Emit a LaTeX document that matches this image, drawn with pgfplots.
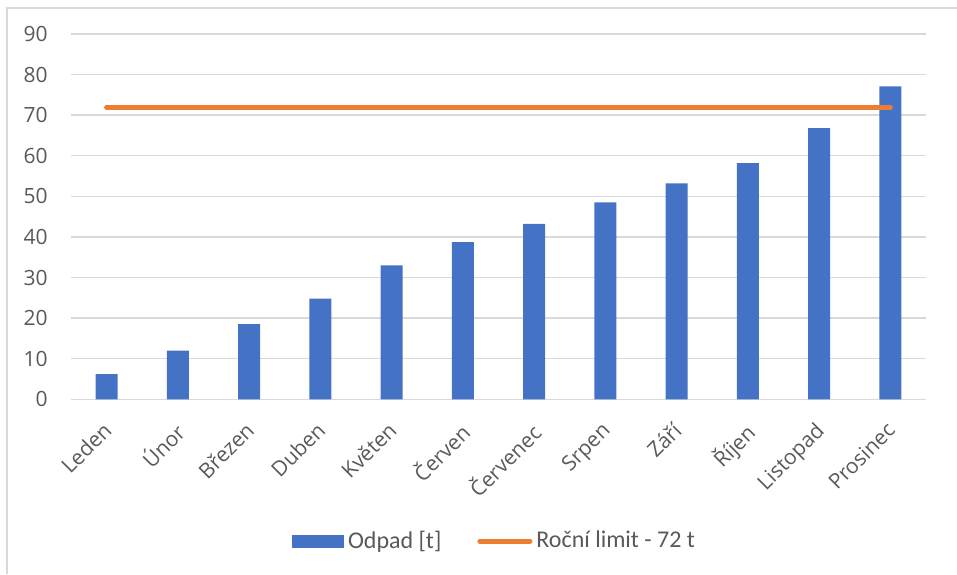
\documentclass[border=0pt]{standalone}
\usepackage{pgfplots}
\pgfplotsset{compat=1.18}
\usepackage{fontspec}
\setmainfont{Open Sans}
\newfontfamily\legendfont{Carlito}
\definecolor{barblue}{HTML}{4472C4}
\definecolor{limitorange}{HTML}{ED7D31}
\definecolor{gridgray}{HTML}{D9D9D9}
\definecolor{textgray}{HTML}{595959}
\begin{document}
\begin{tikzpicture}
\path[use as bounding box] (0,0) rectangle (478.5pt,287pt);
\draw[gridgray, line width=0.9pt] (3.5pt,0pt) -- (3.5pt,283pt) -- (478.5pt,283pt);
\begin{axis}[
  at={(35.5pt,87.35pt)}, anchor=south west,
  scale only axis, width=427.5pt, height=182.65pt,
  xmin=-0.5, xmax=11.5, ymin=0, ymax=90,
  ytick={0,10,...,90},
  xtick={0,...,11},
  xticklabels={Leden,Únor,Březen,Duben,Květen,Červen,Červenec,Srpen,Září,Říjen,Listopad,Prosinec},
  axis line style={draw=none},
  major tick length=0pt,
  ymajorgrids, grid style={gridgray, line width=0.7pt},
  /pgf/number format/assume math mode=true,
  tick label style={font=\fontsize{10.5}{12}\selectfont, text=textgray, inner sep=0pt},
  yticklabel style={anchor=east, xshift=-11.5pt},
  xticklabel style={xshift=-2.5pt, yshift=-10.5pt, rotate=45, anchor=north east},
  legend style={at={(0.4965,-0.388)}, anchor=center, draw=none, fill=none,
    legend columns=2, font=\legendfont\fontsize{12}{14}\selectfont, text=textgray,
    /tikz/every even column/.append style={column sep=16pt},
    inner sep=0pt},
  legend cell align=left,
]
\addplot[ybar, bar width=11pt, fill=barblue, draw=none,
  legend image code/.code={\fill[barblue] (0pt,-3.25pt) rectangle (26pt,3.25pt);}]
  coordinates {(0,6.2) (1,12) (2,18.5) (3,24.8) (4,33) (5,38.7) (6,43.2) (7,48.5) (8,53.2) (9,58.2) (10,66.8) (11,77.1)};
\addlegendentry{Odpad [t]}
\addplot[sharp plot, limitorange, line width=2.5pt, line cap=round, mark=none,
  legend image code/.code={\draw[limitorange, line width=2.5pt, line cap=round] (1.25pt,0pt) -- (26.25pt,0pt);}]
  coordinates {(0,72) (11,72)};
\addlegendentry{Roční limit - 72 t}
\end{axis}
\end{tikzpicture}
\end{document}
